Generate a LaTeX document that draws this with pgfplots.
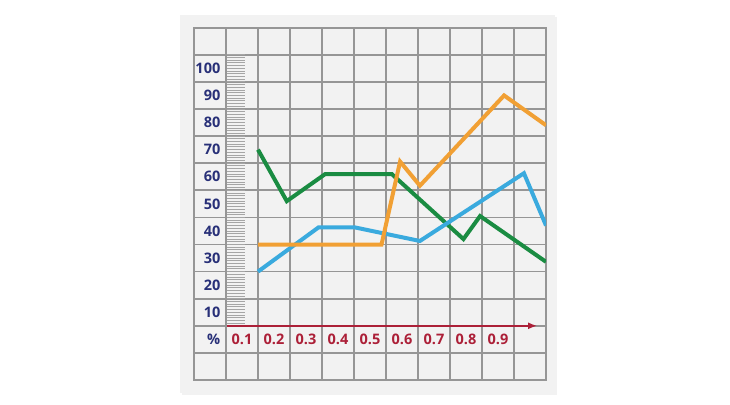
\documentclass[border=0pt]{standalone}
\usepackage{pgfplots}
\pgfplotsset{compat=1.18}
\usetikzlibrary{arrows.meta}
\usepackage{fontspec}
\setmainfont{Open Sans}
\definecolor{panel}{RGB}{242,242,242}
\definecolor{gridc}{RGB}{150,150,150}
\definecolor{rulec}{RGB}{165,165,165}
\definecolor{ynavy}{RGB}{40,48,120}
\definecolor{xred}{RGB}{172,32,56}
\definecolor{cgreen}{RGB}{26,140,66}
\definecolor{cblue}{RGB}{58,170,222}
\definecolor{corange}{RGB}{241,160,52}
\begin{document}
\begin{tikzpicture}[x=1bp,y=1bp]
\useasboundingbox (0,0) rectangle (730,404);
\fill[black!5] (182,9) rectangle (557,387);
\fill[panel] (180,11) rectangle (555,389);
\begin{axis}[
  at={(194bp,24bp)}, anchor=south west,
  scale only axis, width=352bp, height=352.3bp,
  xmin=-0.05, xmax=1.05, ymin=-15, ymax=115,
  xtick={0.1,0.2,0.3,0.4,0.5,0.6,0.7,0.8,0.9},
  xticklabels={0.1,0.2,0.3,0.4,0.5,0.6,0.7,0.8,0.9},
  minor xtick={0.05,0.15,0.25,0.35,0.45,0.55,0.65,0.75,0.85,0.95},
  ytick={0,10,20,30,40,50,60,70,80,90,100},
  yticklabels={\%,10,20,30,40,50,60,70,80,90,100},
  minor ytick={-5,5,15,25,35,45,55,65,75,85,95,105},
  grid=minor,
  minor grid style={gridc, line width=1.7bp},
  major tick length=0pt, minor tick length=0pt,
  every tick/.style={draw=none},
  axis line style={gridc, line width=2bp},
  tick label style={font=\fontsize{14.5bp}{17bp}\selectfont\bfseries},
  xticklabel style={anchor=center, inner sep=0pt, yshift=40.7bp, text=xred},
  yticklabel style={anchor=east, inner sep=0pt, xshift=26.5bp, text=ynavy},
]
\pgfplotsinvokeforeach{5,...,105}{
  \draw[rulec, line width=0.9bp] (axis cs:0.052,#1) -- (axis cs:0.109,#1);
}
\draw[xred, line width=1.6bp, -{Latex[length=9bp,width=7bp]}] (axis cs:0.052,5) -- (axis cs:1.022,5);
\addplot[cgreen, line width=4bp, line join=miter, mark=none] coordinates {
  (0.15,70) (0.24,51) (0.36,61) (0.568,61) (0.792,37) (0.844,45.5) (1.05,28.6)};
\addplot[cblue, line width=4bp, line join=miter, mark=none] coordinates {
  (0.15,25) (0.339,41.3) (0.453,41.3) (0.656,36.3) (0.981,61.3) (1.05,42)};
\addplot[corange, line width=4bp, line join=miter, mark=none] coordinates {
  (0.15,35) (0.536,35) (0.594,65.6) (0.656,56.7) (0.919,90) (1.05,79)};
\end{axis}
\end{tikzpicture}
\end{document}
